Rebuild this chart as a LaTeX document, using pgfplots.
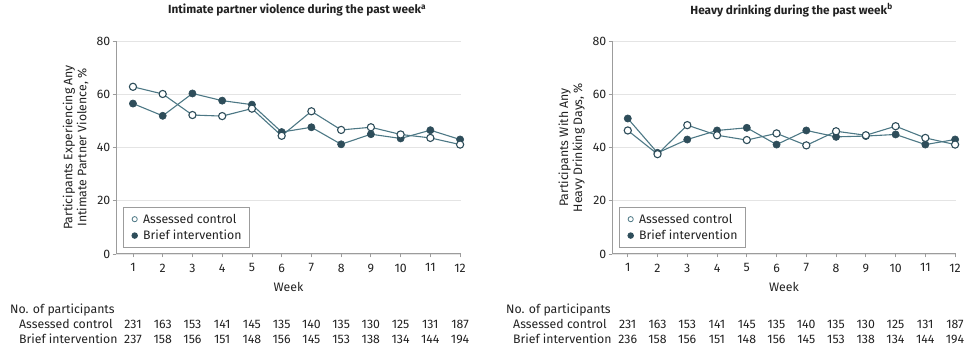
\documentclass[border=0pt]{standalone}
\usepackage{pgfplots}
\pgfplotsset{compat=1.18}
\usepackage{fontspec}
\setmainfont{Fira Sans}
\newcommand\fs{\fontsize{12.3}{14}\selectfont}
\definecolor{dk}{HTML}{2E4D5A}
\definecolor{ln}{HTML}{4D7885}
\definecolor{ax}{HTML}{9C9C9C}
\definecolor{gr}{HTML}{E4E4E4}
\definecolor{tx}{HTML}{222222}
\pgfplotsset{
  myax/.style={
    scale only axis, height=213pt, anchor=south west,
    axis x line*=bottom, axis y line*=left,
    x axis line style={-, ax, line width=1pt},
    y axis line style={-, ax, line width=1pt},
    xmax=12.03, ymin=0, ymax=80,
    xtick={1,...,12}, ytick={0,20,40,60,80},
    tick align=outside, major tick length=3.5pt,
    tick style={ax, line width=0.8pt},
    ymajorgrids, grid style={gr, line width=0.8pt},
    /pgf/number format/assume math mode=true,
    ticklabel style={font=\fs, text=tx},
    yticklabel style={inner sep=2pt},
    xticklabel style={inner sep=0pt, yshift=-6pt},
    label style={font=\fs, text=tx},
    xlabel={Week},
    xlabel style={at={(axis description cs:0.5,0)}, anchor=center, yshift=-33pt},
    title style={font=\fontsize{11.8}{14}\selectfont\bfseries, text=tx, anchor=center},
    clip=false,
    legend style={at={(0.02,0.028)}, anchor=south west, draw=ax, line width=0.8pt, fill=white,
      font=\fs, text=tx, inner xsep=6pt, inner ysep=4.5pt,
      row sep=1.5pt},
    legend cell align=left,
    legend image code/.code={\path (0pt,0pt) (11pt,0pt);\draw[mark repeat=2,mark phase=2,#1] plot coordinates {(0pt,0pt)(5pt,0pt)(11pt,0pt)};},
  },
  ctl/.style={ln, line width=1.1pt, mark=*, mark size=3.6pt, mark options={fill=white, draw=dk, line width=1.1pt}},
  bi/.style={ln, line width=1.1pt, mark=*, mark size=3.6pt, mark options={fill=dk, draw=dk, line width=0.6pt}},
}
\begin{document}
\begin{tikzpicture}
\useasboundingbox (0pt,0pt) rectangle (968pt,350pt);
% ---------------- left panel
\begin{axis}[myax, at={(116pt,96pt)}, width=345pt, xmin=0.43,
  title={Intimate partner violence during the past week\textsuperscript{a}},
  title style={at={(axis description cs:0.525,1.117)}},
  ylabel={Participants Experiencing Any\\Intimate Partner Violence, \%},
  ylabel style={align=center, at={(axis description cs:-0.117,0.5)}, anchor=center},
]
\addlegendimage{only marks, mark=*, mark size=2.6pt, mark options={fill=white, draw=ln, line width=0.8pt}}
\addlegendentry{Assessed control}
\addlegendimage{only marks, mark=*, mark size=2.8pt, mark options={fill=dk, draw=dk}}
\addlegendentry{Brief intervention}
\addplot[bi, forget plot] coordinates {(1,56.5)(2,51.9)(3,60.3)(4,57.6)(5,56.1)(6,45.8)(7,47.6)(8,41.2)(9,45.0)(10,43.4)(11,46.5)(12,43.0)};
\addplot[ctl, forget plot] coordinates {(1,62.8)(2,60.1)(3,52.2)(4,51.8)(5,54.6)(6,44.4)(7,53.6)(8,46.6)(9,47.6)(10,44.9)(11,43.6)(12,41.1)};
\end{axis}
% ---------------- right panel
\begin{axis}[myax, at={(612pt,96pt)}, width=344pt, xmin=0.47,
  title={Heavy drinking during the past week\textsuperscript{b}},
  title style={at={(axis description cs:0.522,1.117)}},
  ylabel={Participants With Any\\Heavy Drinking Days, \%},
  ylabel style={align=center, at={(axis description cs:-0.117,0.5)}, anchor=center},
]
\addlegendimage{only marks, mark=*, mark size=2.6pt, mark options={fill=white, draw=ln, line width=0.8pt}}
\addlegendentry{Assessed control}
\addlegendimage{only marks, mark=*, mark size=2.8pt, mark options={fill=dk, draw=dk}}
\addlegendentry{Brief intervention}
\addplot[bi, forget plot] coordinates {(1,50.9)(2,38.0)(3,43.0)(4,46.4)(5,47.4)(6,41.1)(7,46.4)(8,44.0)(9,44.3)(10,44.9)(11,41.1)(12,43.0)};
\addplot[ctl, forget plot] coordinates {(1,46.4)(2,37.5)(3,48.4)(4,44.6)(5,42.8)(6,45.3)(7,40.8)(8,46.1)(9,44.6)(10,48.0)(11,43.6)(12,41.1)};
\end{axis}
% ---------------- participant tables
\begin{scope}[every node/.style={font=\fs, text=tx, inner sep=0pt}]
\node[anchor=west] at (10pt,40pt) {No. of participants};
\node[anchor=west] at (19pt,26pt) {Assessed control};
\node[anchor=west] at (19pt,11pt) {Brief intervention};
\foreach \v [count=\i] in {231,163,153,141,145,135,140,135,130,125,131,187}
  \node at ({133pt+(\i-1)*29.73pt},26pt) {\v};
\foreach \v [count=\i] in {237,158,156,151,148,156,145,153,138,134,144,194}
  \node at ({133pt+(\i-1)*29.73pt},11pt) {\v};
\node[anchor=west] at (506pt,40pt) {No. of participants};
\node[anchor=west] at (513pt,26pt) {Assessed control};
\node[anchor=west] at (513pt,11pt) {Brief intervention};
\foreach \v [count=\i] in {231,163,153,141,145,135,140,135,130,125,131,187}
  \node at ({627.7pt+(\i-1)*29.75pt},26pt) {\v};
\foreach \v [count=\i] in {236,158,156,151,148,156,145,153,138,134,144,194}
  \node at ({627.7pt+(\i-1)*29.75pt},11pt) {\v};
\end{scope}
\end{tikzpicture}
\end{document}
